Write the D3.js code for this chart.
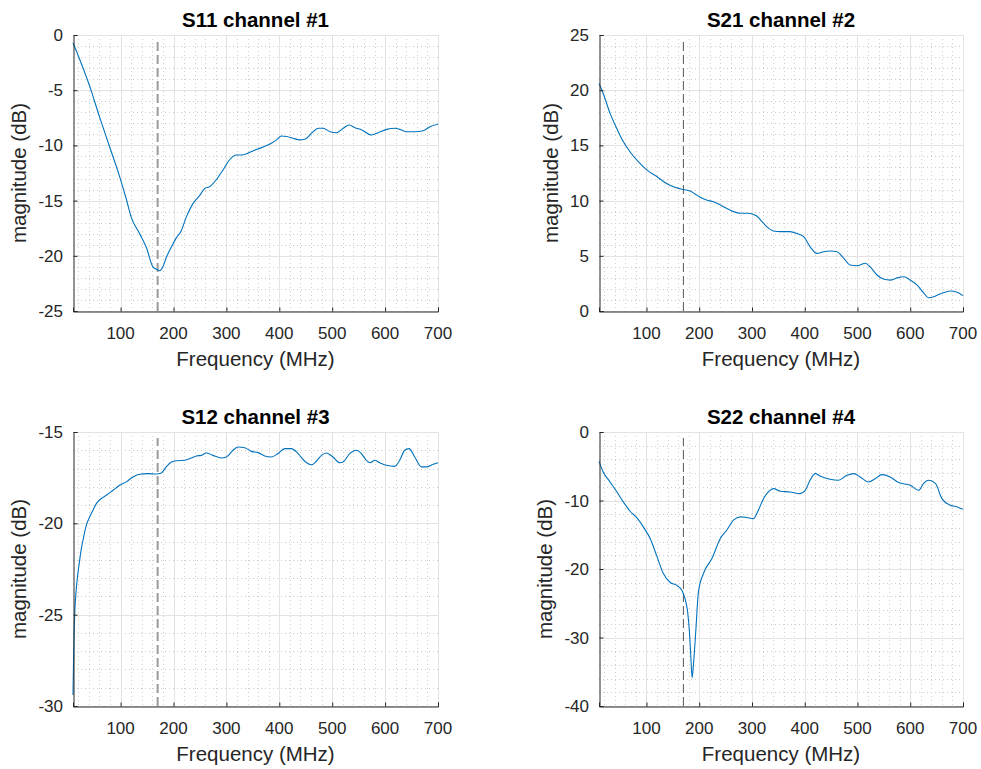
<!DOCTYPE html>
<html>
<head>
<meta charset="utf-8">
<script src="https://cdn.jsdelivr.net/npm/d3@7"></script>
<style>
  body { margin: 0; background: #fff; }
  svg { display: block; font-family: "Liberation Sans", Arial, Helvetica, sans-serif; }
</style>
</head>
<body>
<script>
// frequency ticks shared by all four panels
const freqTicks = [100, 200, 300, 400, 500, 600, 700];
const markerFreq = 170;

// S11 channel #1
const s11Freq = [10, 16, 42, 60, 79, 98, 111, 120, 136, 149, 161, 171, 174, 180, 186, 196, 205, 215, 224, 237, 250, 259, 268, 281, 294, 306, 319, 328, 341, 351, 363, 376, 385, 395, 404, 414, 426, 439, 448, 461, 474, 483, 496, 508, 521, 532, 543, 556, 574, 587, 603, 619, 628, 641, 656, 672, 685, 700];
const s11Mag = [-0.7, -1.4, -4.7, -7.4, -10.1, -12.8, -14.9, -16.5, -18.0, -19.3, -21.0, -21.3, -21.35, -21.0, -20.2, -19.2, -18.4, -17.7, -16.5, -15.25, -14.5, -13.9, -13.75, -13.1, -12.2, -11.3, -10.87, -10.87, -10.7, -10.48, -10.27, -10.02, -9.8, -9.5, -9.15, -9.2, -9.36, -9.5, -9.45, -8.9, -8.45, -8.45, -8.76, -8.85, -8.45, -8.15, -8.4, -8.6, -9.06, -8.85, -8.55, -8.45, -8.55, -8.76, -8.76, -8.67, -8.3, -8.09];
const s11Ticks = [-25, -20, -15, -10, -5, 0];

// S21 channel #2
const s21Freq = [10, 18, 31, 44, 53, 69, 85, 100, 119, 138, 154, 170, 183, 192, 202, 214, 227, 240, 252, 265, 278, 293, 309, 319, 328, 341, 354, 372, 385, 398, 410, 423, 436, 448, 461, 474, 486, 499, 515, 524, 537, 550, 562, 575, 588, 600, 613, 625, 635, 648, 660, 676, 689, 700];
const s21Mag = [20.6, 19.7, 17.9, 16.5, 15.6, 14.4, 13.5, 12.8, 12.2, 11.55, 11.2, 11.0, 10.87, 10.6, 10.3, 10.05, 9.9, 9.6, 9.3, 9.0, 8.85, 8.85, 8.6, 8.1, 7.64, 7.25, 7.19, 7.19, 7.03, 6.73, 5.83, 5.22, 5.37, 5.43, 5.37, 4.77, 4.17, 4.1, 4.32, 4.0, 3.26, 2.87, 2.8, 3.0, 3.1, 2.8, 2.35, 1.66, 1.2, 1.36, 1.6, 1.81, 1.7, 1.39];
const s21Ticks = [0, 5, 10, 15, 20, 25];

// S12 channel #3
const s12Freq = [10, 11.3, 13.2, 16.3, 21.3, 25.8, 30.2, 35.2, 41.5, 47.8, 54.1, 63.6, 73, 85.6, 98.2, 110.8, 123.4, 136, 151.8, 167.5, 177, 186.4, 195.9, 205.3, 221.1, 233.7, 243.1, 252.6, 262.1, 274.7, 290.4, 299.9, 312.5, 322, 334.6, 347.2, 359.8, 372.4, 385, 397.6, 410.2, 422.8, 435.4, 448, 460.7, 470.1, 479.6, 489, 501.5, 514.2, 520.5, 533.1, 545.7, 555.2, 564.6, 572.2, 580.4, 589.8, 602.4, 618.2, 627.6, 637.1, 645.2, 656, 668.6, 678, 690.6, 700];
const s12Mag = [-29.4, -27.0, -25.0, -23.57, -22.29, -21.38, -20.74, -20.1, -19.65, -19.28, -18.92, -18.64, -18.46, -18.19, -17.92, -17.73, -17.46, -17.31, -17.28, -17.3, -17.24, -16.91, -16.64, -16.57, -16.55, -16.42, -16.31, -16.28, -16.15, -16.28, -16.42, -16.37, -16.0, -15.82, -15.86, -16.06, -16.13, -16.31, -16.37, -16.18, -15.91, -15.91, -16.18, -16.6, -16.79, -16.6, -16.28, -16.15, -16.37, -16.68, -16.64, -16.18, -16.0, -16.18, -16.55, -16.68, -16.55, -16.68, -16.82, -16.88, -16.55, -16.0, -15.91, -16.37, -16.91, -16.91, -16.77, -16.68];
const s12Ticks = [-30, -25, -20, -15];

// S22 channel #4
const s22Freq = [10, 18, 31, 44, 56, 69, 82, 94, 107, 119, 132, 145, 157, 167, 173, 178, 181.4, 184.6, 186.5, 189, 193.4, 198.5, 208, 224, 240, 252, 265, 278, 290, 303, 312, 322, 331, 341, 354, 372, 391, 401, 410, 420, 429, 448, 464, 480, 493, 505, 521, 534, 546, 562, 578, 600, 616, 625, 635, 648, 660, 676, 689, 700];
const s22Mag = [-4.28, -5.83, -7.29, -8.75, -10.2, -11.57, -12.54, -13.85, -15.55, -17.98, -20.66, -21.97, -22.36, -23.09, -24.3, -26.25, -29.16, -33.54, -35.87, -34.0, -29.16, -23.33, -20.66, -18.47, -15.55, -14.34, -12.88, -12.39, -12.49, -12.64, -11.42, -9.72, -8.75, -8.26, -8.65, -8.75, -8.99, -8.51, -7.05, -6.08, -6.42, -6.9, -7.05, -6.32, -6.08, -6.56, -7.29, -6.8, -6.22, -6.56, -7.39, -7.78, -8.51, -7.53, -7.05, -7.53, -9.72, -10.69, -10.94, -11.28];
const s22Ticks = [-40, -30, -20, -10, 0];

const width = 981;
const height = 769;

const svg = d3.select("body").append("svg")
  .attr("width", width)
  .attr("height", height);

const panels = [
  { title: "S11 channel #1", freq: s11Freq, mag: s11Mag, ticks: s11Ticks, minor: 1, x0: 73, x1: 438, y0: 35, y1: 311, dashColor: "#9a9a9a", dashWidth: 2 },
  { title: "S21 channel #2", freq: s21Freq, mag: s21Mag, ticks: s21Ticks, minor: 1, x0: 599, x1: 963, y0: 35, y1: 311, dashColor: "#555", dashWidth: 1 },
  { title: "S12 channel #3", freq: s12Freq, mag: s12Mag, ticks: s12Ticks, minor: 1, x0: 73, x1: 438, y0: 432, y1: 706, dashColor: "#9a9a9a", dashWidth: 2 },
  { title: "S22 channel #4", freq: s22Freq, mag: s22Mag, ticks: s22Ticks, minor: 2, x0: 599, x1: 963, y0: 432, y1: 706, dashColor: "#555", dashWidth: 1 }
];

panels.forEach(p => drawPanel(p));

function drawPanel(p) {
  const x = d3.scaleLinear().domain([10, 700]).range([p.x0, p.x1]);
  const yExt = d3.extent(p.ticks);
  const y = d3.scaleLinear().domain(yExt).range([p.y1, p.y0]);

  const g = svg.append("g");

  // minor grid (dotted)
  const xMinor = d3.range(20, 700, 20).filter(v => v % 100 !== 0);
  const yMinor = d3.range(yExt[0], yExt[1], p.minor).filter(v => !p.ticks.includes(v));

  g.append("g")
    .selectAll("line")
    .data(xMinor)
    .join("line")
    .attr("x1", d => Math.round(x(d)) + 0.5)
    .attr("x2", d => Math.round(x(d)) + 0.5)
    .attr("y1", p.y0)
    .attr("y2", p.y1)
    .attr("stroke", "#cfcfcf")
    .attr("stroke-dasharray", "1,3");

  g.append("g")
    .selectAll("line")
    .data(yMinor)
    .join("line")
    .attr("x1", p.x0)
    .attr("x2", p.x1)
    .attr("y1", d => Math.round(y(d)) + 0.5)
    .attr("y2", d => Math.round(y(d)) + 0.5)
    .attr("stroke", "#cfcfcf")
    .attr("stroke-dasharray", "1,3");

  // major grid
  g.append("g")
    .selectAll("line")
    .data(freqTicks)
    .join("line")
    .attr("x1", d => Math.round(x(d)) + 0.5)
    .attr("x2", d => Math.round(x(d)) + 0.5)
    .attr("y1", p.y0)
    .attr("y2", p.y1)
    .attr("stroke", "#e2e2e2");

  g.append("g")
    .selectAll("line")
    .data(p.ticks)
    .join("line")
    .attr("x1", p.x0)
    .attr("x2", p.x1)
    .attr("y1", d => Math.round(y(d)) + 0.5)
    .attr("y2", d => Math.round(y(d)) + 0.5)
    .attr("stroke", "#e2e2e2");

  // dashed marker line
  g.append("line")
    .attr("x1", x(markerFreq))
    .attr("x2", x(markerFreq))
    .attr("y1", p.y1)
    .attr("y2", p.y0 + 6)
    .attr("stroke", p.dashColor)
    .attr("stroke-width", p.dashWidth)
    .attr("stroke-dasharray", "9,4");

  // the measured curve
  const line = d3.line()
    .x((d, i) => x(p.freq[i]))
    .y(d => y(d))
    .curve(d3.curveMonotoneX);

  g.append("path")
    .datum(p.mag)
    .attr("fill", "none")
    .attr("stroke", "#0072BD")
    .attr("stroke-width", 1.1)
    .attr("d", line);

  // axes (ticks inside, MATLAB-like)
  const xAxis = d3.axisBottom(x).tickValues(freqTicks).tickSize(-4).tickPadding(0).tickFormat(d3.format("d"));
  const yAxis = d3.axisLeft(y).tickValues(p.ticks).tickSize(-4).tickPadding(0).tickFormat(d => d3.format("d")(d).replace("−", "-"));

  const gx = g.append("g")
    .attr("transform", `translate(0,${p.y1 + 0.5})`)
    .call(xAxis);
  gx.selectAll("text").remove();
  gx.select(".domain").attr("stroke", "#262626");
  gx.selectAll(".tick line").attr("stroke", "#262626");

  const gy = g.append("g")
    .attr("transform", `translate(${p.x0 + 0.5},0)`)
    .call(yAxis);
  gy.selectAll("text").remove();
  gy.select(".domain").attr("stroke", "#262626");
  gy.selectAll(".tick line").attr("stroke", "#262626");

  // tick labels
  g.append("g")
    .selectAll("text")
    .data(freqTicks)
    .join("text")
    .attr("x", d => x(d))
    .attr("y", p.y1 + 28)
    .attr("text-anchor", "middle")
    .attr("font-size", 17)
    .attr("fill", "#262626")
    .text(d => d);

  const yLabels = g.append("g")
    .selectAll("text")
    .data(p.ticks)
    .join("text")
    .attr("x", p.x0 - 10)
    .attr("y", d => y(d) + 6)
    .attr("text-anchor", "end")
    .attr("font-size", 17)
    .attr("fill", "#262626")
    .text(d => d);

  let maxW = 0;
  yLabels.each(function () { maxW = Math.max(maxW, this.getComputedTextLength()); });

  // axis titles
  g.append("text")
    .attr("x", (p.x0 + p.x1) / 2)
    .attr("y", p.y1 + 55)
    .attr("text-anchor", "middle")
    .attr("font-size", 20.5)
    .attr("fill", "#262626")
    .text("Frequency (MHz)");

  const lx = p.x0 - 10 - maxW - 12;
  const ly = (p.y0 + p.y1) / 2;
  g.append("text")
    .attr("transform", `translate(${lx},${ly}) rotate(-90)`)
    .attr("text-anchor", "middle")
    .attr("font-size", 20.5)
    .attr("fill", "#262626")
    .text("magnitude (dB)");

  g.append("text")
    .attr("x", (p.x0 + p.x1) / 2)
    .attr("y", p.y0 - 8)
    .attr("text-anchor", "middle")
    .attr("font-size", 20.5)
    .attr("font-weight", "bold")
    .attr("fill", "#000")
    .text(p.title);
}
</script>
</body>
</html>
